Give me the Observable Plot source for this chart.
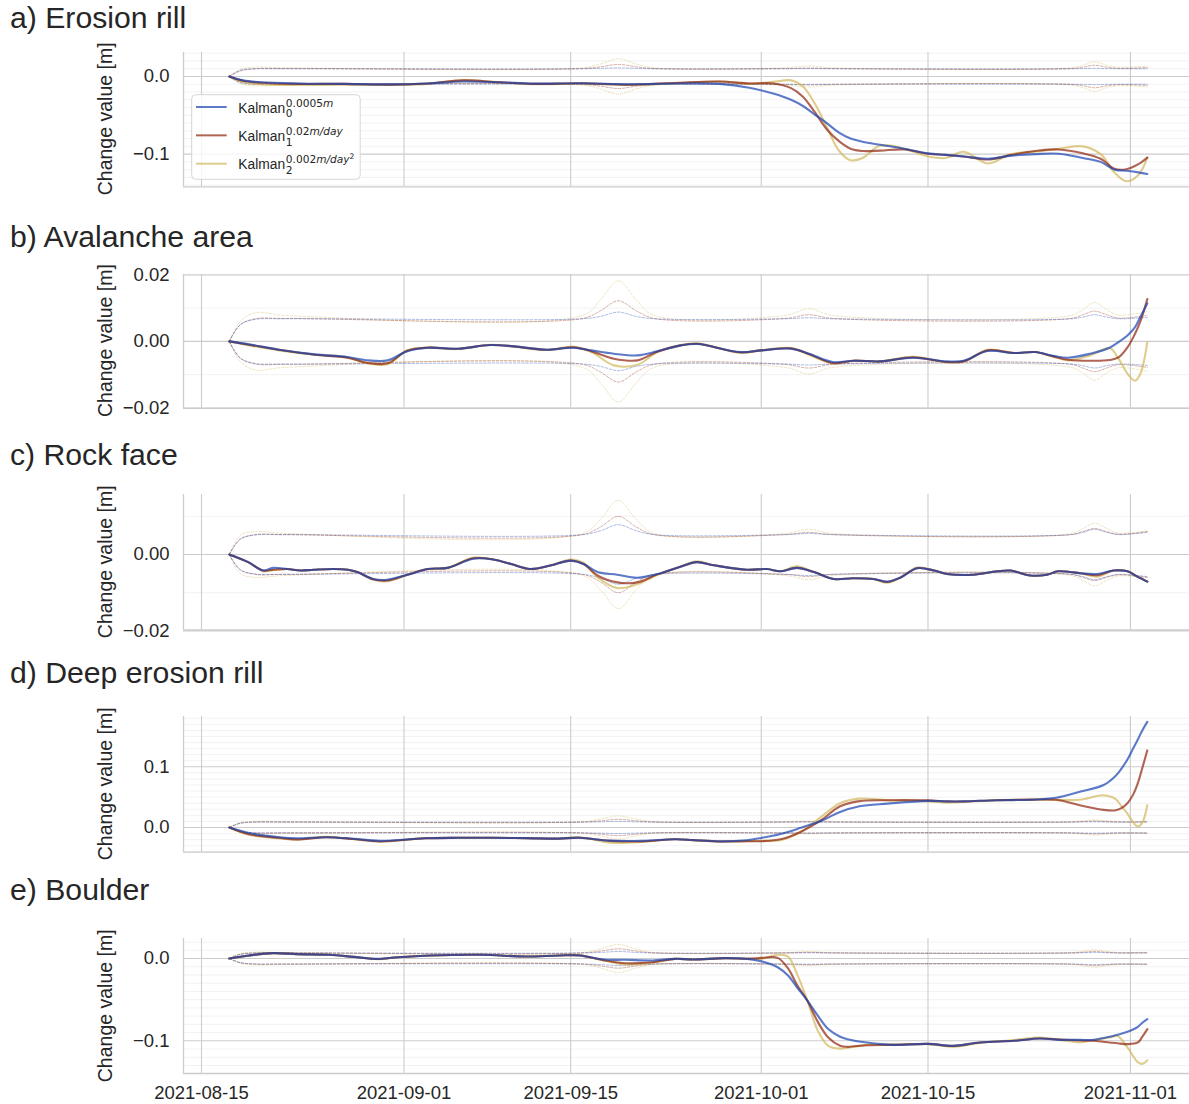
<!DOCTYPE html>
<html>
<head>
<meta charset="utf-8">
<script src="https://cdn.jsdelivr.net/npm/d3@7"></script>
<script src="https://cdn.jsdelivr.net/npm/@observablehq/plot@0.6"></script>
<style>
  body { margin: 0; background: #fff; }
  #root { position: relative; width: 1189px; height: 1104px; overflow: hidden; background: #fff;
          font-family: "Liberation Sans", Arial, sans-serif; color: #262626; }
  #root svg.panel { position: absolute; left: 0; }
  #overlay { position: absolute; left: 0; top: 0; pointer-events: none; }
</style>
</head>
<body>
<div id="root"></div>
<script>
// ---------------- DATA ----------------
const seriesNames = ["Kalman", "Kalman", "Kalman"];
const seriesSub = ["0", "1", "2"];
const seriesSupNum = ["0.0005", "0.02", "0.002"];
const seriesSupUnit = ["m", "m/day", "m/day"];
const seriesSupPow = ["", "", "2"];
const seriesColors = ["#1841b0", "#8e220c", "#d0b85b"];

const panelTitles = ["a) Erosion rill", "b) Avalanche area", "c) Rock face", "d) Deep erosion rill", "e) Boulder"];
const yLabel = "Change value [m]";
const xTicks = ["2021-08-15", "2021-09-01", "2021-09-15", "2021-10-01", "2021-10-15", "2021-11-01"];

// Panel a) Erosion rill
const aDates = ["08-17 08","08-18 12","08-20 00","08-23 00","08-27 00","08-31 00","09-03 00","09-06 00","09-09 00","09-12 00","09-16 00","09-20 00","09-24 00","09-27 12","09-30 00","10-02 00","10-03 12","10-04 12","10-05 12","10-06 12","10-07 12","10-08 12","10-09 12","10-11 00","10-13 00","10-15 00","10-16 12","10-18 00","10-20 00","10-22 00","10-24 00","10-26 00","10-28 00","10-29 12","10-30 16","10-31 16","11-01 16","11-02 10"];
const aK0 = [0,-0.005,-0.0075,-0.009,-0.0095,-0.0102,-0.009,-0.0065,-0.0075,-0.0092,-0.0088,-0.0100,-0.009,-0.0095,-0.0145,-0.022,-0.030,-0.038,-0.049,-0.060,-0.072,-0.080,-0.084,-0.088,-0.093,-0.099,-0.101,-0.103,-0.106,-0.102,-0.100,-0.0995,-0.105,-0.110,-0.120,-0.1215,-0.1235,-0.1255];
const aK1 = [0,-0.0055,-0.008,-0.0095,-0.0095,-0.0105,-0.009,-0.005,-0.0075,-0.0095,-0.0088,-0.0105,-0.008,-0.0065,-0.009,-0.009,-0.015,-0.026,-0.046,-0.068,-0.083,-0.093,-0.096,-0.0955,-0.094,-0.0995,-0.101,-0.103,-0.107,-0.101,-0.096,-0.094,-0.099,-0.106,-0.119,-0.1195,-0.113,-0.1045];
const aK2 = [0,-0.007,-0.010,-0.011,-0.0105,-0.011,-0.0095,-0.0045,-0.0075,-0.010,-0.009,-0.011,-0.0085,-0.0065,-0.009,-0.007,-0.005,-0.013,-0.035,-0.065,-0.095,-0.108,-0.105,-0.089,-0.093,-0.103,-0.105,-0.097,-0.112,-0.100,-0.097,-0.093,-0.090,-0.100,-0.124,-0.135,-0.127,-0.1045];

// Panel b) Avalanche area
const bDates = ["08-17 08","08-19 00","08-21 12","08-24 12","08-27 06","08-29 00","08-30 15","09-01 06","09-03 00","09-05 12","09-08 06","09-10 06","09-13 00","09-15 06","09-16 18","09-18 15","09-20 15","09-22 06","09-24 06","09-25 15","09-29 06","10-01 00","10-03 12","10-05 00","10-07 00","10-08 18","10-11 00","10-13 18","10-16 15","10-18 00","10-20 00","10-22 06","10-24 00","10-25 12","10-26 18","10-28 15","10-30 06","10-31 00","10-31 18","11-01 09","11-01 20","11-02 10"];
const bK0 = [0,-0.0009,-0.0025,-0.0039,-0.0047,-0.0057,-0.0057,-0.0030,-0.0019,-0.0022,-0.0011,-0.0015,-0.0025,-0.0019,-0.0027,-0.0037,-0.0042,-0.0030,-0.0012,-0.0008,-0.0032,-0.0027,-0.0022,-0.0037,-0.0062,-0.0058,-0.0060,-0.0049,-0.0060,-0.0058,-0.0029,-0.0035,-0.0032,-0.0043,-0.0049,-0.0037,-0.0019,-0.0002,0.0018,0.0042,0.0073,0.0114];
const bK1 = [0,-0.0010,-0.0025,-0.0040,-0.0049,-0.0065,-0.0066,-0.0028,-0.0019,-0.0022,-0.0011,-0.0015,-0.0025,-0.0018,-0.0030,-0.0052,-0.0057,-0.0031,-0.0012,-0.0007,-0.0033,-0.0027,-0.0021,-0.0038,-0.0065,-0.0058,-0.0060,-0.0048,-0.0062,-0.0060,-0.0027,-0.0035,-0.0032,-0.0045,-0.0055,-0.0058,-0.0056,-0.0048,-0.0018,0.0022,0.0060,0.0127];
const bK2 = [0,-0.0012,-0.0027,-0.0040,-0.0048,-0.0066,-0.0069,-0.0027,-0.0018,-0.0023,-0.0010,-0.0016,-0.0026,-0.0016,-0.0032,-0.0072,-0.0070,-0.0033,-0.0011,-0.0006,-0.0034,-0.0027,-0.0020,-0.0040,-0.0066,-0.0058,-0.0060,-0.0046,-0.0063,-0.0060,-0.0025,-0.0035,-0.0032,-0.0045,-0.0057,-0.0042,-0.0020,-0.0052,-0.0097,-0.0118,-0.0097,-0.0002];

// Panel c) Rock face
const cDates = ["08-17 08","08-18 22","08-20 05","08-21 00","08-22 05","08-23 07","08-24 10","08-26 02","08-27 07","08-28 02","08-29 10","08-30 14","09-01 07","09-03 00","09-04 16","09-06 20","09-08 12","09-10 00","09-11 14","09-13 07","09-15 00","09-16 02","09-17 06","09-18 22","09-20 14","09-22 07","09-24 05","09-25 14","09-27 00","09-29 19","10-01 12","10-02 14","10-04 00","10-05 10","10-07 02","10-08 17","10-10 10","10-11 14","10-12 17","10-14 02","10-15 12","10-16 14","10-18 19","10-20 19","10-21 22","10-23 14","10-25 00","10-25 22","10-27 19","10-29 05","10-30 14","10-31 18","11-01 14","11-02 10"];
const cK0 = [0,-0.0020,-0.0042,-0.0035,-0.0038,-0.0042,-0.0040,-0.0038,-0.0040,-0.0046,-0.0064,-0.0066,-0.0053,-0.0038,-0.0035,-0.0011,-0.0013,-0.0025,-0.0038,-0.0029,-0.0016,-0.0025,-0.0046,-0.0053,-0.0061,-0.0051,-0.0032,-0.0020,-0.0028,-0.0040,-0.0038,-0.0044,-0.0035,-0.0046,-0.0064,-0.0062,-0.0064,-0.0071,-0.0060,-0.0036,-0.0042,-0.0051,-0.0053,-0.0044,-0.0042,-0.0055,-0.0053,-0.0044,-0.0049,-0.0051,-0.0042,-0.0044,-0.0058,-0.0071];
const cK1 = [0,-0.0020,-0.0042,-0.0040,-0.0038,-0.0042,-0.0040,-0.0038,-0.0040,-0.0046,-0.0065,-0.0068,-0.0053,-0.0038,-0.0035,-0.0010,-0.0013,-0.0025,-0.0038,-0.0029,-0.0016,-0.0025,-0.0055,-0.0073,-0.0073,-0.0052,-0.0032,-0.0020,-0.0028,-0.0040,-0.0038,-0.0044,-0.0035,-0.0046,-0.0064,-0.0062,-0.0064,-0.0072,-0.0060,-0.0036,-0.0042,-0.0051,-0.0053,-0.0044,-0.0042,-0.0055,-0.0053,-0.0044,-0.0049,-0.0054,-0.0042,-0.0044,-0.0058,-0.0071];
const cK2 = [0,-0.0020,-0.0044,-0.0041,-0.0038,-0.0042,-0.0040,-0.0038,-0.0040,-0.0046,-0.0066,-0.0070,-0.0053,-0.0038,-0.0035,-0.0008,-0.0013,-0.0025,-0.0038,-0.0029,-0.0013,-0.0022,-0.0060,-0.0088,-0.0078,-0.0053,-0.0032,-0.0018,-0.0028,-0.0040,-0.0038,-0.0044,-0.0031,-0.0046,-0.0064,-0.0062,-0.0064,-0.0074,-0.0060,-0.0034,-0.0042,-0.0051,-0.0053,-0.0044,-0.0042,-0.0055,-0.0053,-0.0044,-0.0049,-0.0058,-0.0042,-0.0044,-0.0058,-0.0071];

// Panel d) Deep erosion rill
const dDates = ["08-17 08","08-19 00","08-21 12","08-23 00","08-25 12","08-27 18","08-30 00","09-02 18","09-05 12","09-08 12","09-11 06","09-14 00","09-15 18","09-18 06","09-21 00","09-23 18","09-25 06","09-27 12","09-29 18","10-01 00","10-02 15","10-04 06","10-06 00","10-07 15","10-09 06","10-11 15","10-15 00","10-16 15","10-18 00","10-20 18","10-23 15","10-25 18","10-27 18","10-29 18","10-30 18","10-31 06","10-31 18","11-01 06","11-01 15","11-02 00","11-02 10"];
const dK0 = [0,-0.009,-0.016,-0.0178,-0.016,-0.0185,-0.022,-0.0178,-0.017,-0.017,-0.0175,-0.0183,-0.017,-0.0217,-0.022,-0.0194,-0.0206,-0.0228,-0.0210,-0.0172,-0.0106,-0.001,0.0106,0.0256,0.035,0.0394,0.0439,0.043,0.043,0.045,0.0456,0.049,0.0589,0.070,0.085,0.097,0.112,0.131,0.145,0.160,0.174];
const dK1 = [0,-0.011,-0.017,-0.0196,-0.016,-0.019,-0.023,-0.0178,-0.017,-0.017,-0.0175,-0.0183,-0.017,-0.022,-0.023,-0.0194,-0.0208,-0.023,-0.0226,-0.0226,-0.0195,-0.0078,0.0117,0.035,0.0435,0.045,0.0447,0.043,0.043,0.045,0.046,0.0456,0.0367,0.029,0.0283,0.032,0.040,0.055,0.073,0.098,0.127];
const dK2 = [0,-0.012,-0.018,-0.0200,-0.0155,-0.0195,-0.0233,-0.0175,-0.017,-0.017,-0.0175,-0.0185,-0.016,-0.025,-0.024,-0.019,-0.0208,-0.023,-0.0225,-0.022,-0.021,-0.008,0.017,0.040,0.0475,0.045,0.043,0.041,0.042,0.045,0.0456,0.0456,0.0456,0.053,0.047,0.035,0.0228,0.008,0.0017,0.008,0.0367];

// Panel e) Boulder
const eDates = ["08-17 08","08-19 00","08-21 00","08-23 00","08-25 18","08-27 18","08-29 18","08-31 12","09-03 06","09-07 12","09-11 06","09-14 00","09-15 18","09-17 18","09-19 15","09-21 21","09-23 18","09-25 06","09-28 00","09-30 00","10-01 00","10-02 09","10-03 06","10-04 00","10-04 21","10-05 18","10-06 15","10-07 15","10-08 06","10-09 21","10-12 03","10-15 00","10-17 03","10-19 09","10-22 06","10-24 09","10-26 03","10-27 18","10-28 22","10-30 06","10-30 22","10-31 18","11-01 15","11-02 00","11-02 10"];
const eK0 = [0,0.0037,0.0065,0.0053,0.0045,0.002,-0.0004,0.0016,0.0037,0.0045,0.0024,0.0037,0.0037,-0.0012,-0.0016,-0.0024,-0.0004,-0.0012,0.0004,-0.0008,-0.0033,-0.0106,-0.0207,-0.035,-0.0512,-0.0695,-0.0857,-0.095,-0.098,-0.102,-0.1049,-0.1037,-0.1061,-0.102,-0.100,-0.0972,-0.0988,-0.0988,-0.0988,-0.0951,-0.0925,-0.089,-0.083,-0.078,-0.0736];
const eK1 = [0,0.0037,0.0065,0.0053,0.0045,0.002,-0.0006,0.0016,0.0037,0.0045,0.0024,0.0037,0.0038,-0.0020,-0.0057,-0.0045,-0.0004,-0.0012,0.0004,-0.0002,0.0008,0.0008,-0.012,-0.032,-0.0512,-0.077,-0.096,-0.106,-0.1073,-0.1053,-0.1049,-0.1037,-0.1061,-0.102,-0.100,-0.0972,-0.0985,-0.0996,-0.1000,-0.1020,-0.1030,-0.1040,-0.1020,-0.0950,-0.0858];
const eK2 = [0,0.0035,0.0065,0.0053,0.0045,0.002,-0.0008,0.0016,0.0037,0.0045,0.0024,0.0037,0.0040,-0.0025,-0.0073,-0.0050,-0.0004,-0.0012,0.0004,-0.0005,-0.0005,0.0045,0.0024,-0.0187,-0.0512,-0.0878,-0.1061,-0.1095,-0.1085,-0.1049,-0.1045,-0.1040,-0.1073,-0.1025,-0.0990,-0.0960,-0.0990,-0.1020,-0.0990,-0.0960,-0.0940,-0.1080,-0.1260,-0.1280,-0.1236];

// Uncertainty (±1 sigma) envelopes, shared sampling dates
const bandDates = ["08-17 08","08-18 06","08-19 12","08-22 00","09-16 00","09-17 12","09-19 00","09-20 12","09-22 00","10-03 00","10-05 00","10-07 00","10-27 00","10-28 00","10-29 00","10-30 00","10-31 00","11-02 10"];
const aS0 = [0,0.008,0.0098,0.010,0.010,0.0105,0.011,0.0105,0.010,0.010,0.0102,0.010,0.010,0.0102,0.0105,0.0102,0.010,0.010];
const aS1 = [0,0.007,0.0100,0.0102,0.0102,0.0125,0.0155,0.0125,0.0102,0.0102,0.0108,0.0102,0.0102,0.012,0.0145,0.012,0.0105,0.0115];
const aS2 = [0,0.009,0.0120,0.0112,0.0112,0.016,0.023,0.016,0.0112,0.0112,0.0135,0.0112,0.0112,0.0145,0.019,0.0145,0.012,0.0135];
const bS0 = [0,0.005,0.0066,0.0068,0.0068,0.0075,0.0088,0.0075,0.0068,0.0068,0.0071,0.0068,0.0068,0.0073,0.0080,0.0073,0.0068,0.0072];
const bS1 = [0,0.005,0.0068,0.0069,0.0069,0.0092,0.0122,0.0092,0.0069,0.0069,0.0080,0.0069,0.0069,0.0080,0.0091,0.0080,0.0070,0.0078];
const bS2 = [0,0.006,0.0086,0.0078,0.0078,0.0125,0.0182,0.0125,0.0078,0.0078,0.0098,0.0078,0.0078,0.0095,0.0117,0.0095,0.0079,0.0090];
const cS0 = [0,0.004,0.0051,0.0052,0.0052,0.0062,0.0078,0.0062,0.0052,0.0052,0.0055,0.0052,0.0052,0.0058,0.0066,0.0058,0.0052,0.0058];
const cS1 = [0,0.004,0.0052,0.0052,0.0052,0.0072,0.0100,0.0072,0.0052,0.0052,0.0058,0.0052,0.0052,0.0060,0.0068,0.0060,0.0053,0.0060];
const cS2 = [0,0.005,0.0060,0.0055,0.0055,0.0092,0.0142,0.0092,0.0055,0.0055,0.0066,0.0055,0.0055,0.0068,0.0082,0.0068,0.0056,0.0062];
const dS0 = [0,0.007,0.0088,0.0089,0.0089,0.0093,0.0100,0.0093,0.0089,0.0089,0.0091,0.0089,0.0089,0.0091,0.0094,0.0091,0.0089,0.0090];
const dS1 = [0,0.007,0.0090,0.0090,0.0090,0.0110,0.0135,0.0110,0.0090,0.0090,0.0095,0.0090,0.0090,0.0098,0.0105,0.0098,0.0090,0.0092];
const dS2 = [0,0.008,0.0100,0.0095,0.0095,0.0140,0.0190,0.0140,0.0095,0.0095,0.0105,0.0095,0.0095,0.0110,0.0125,0.0110,0.0096,0.0100];
const eS0 = [0,0.005,0.0066,0.0067,0.0067,0.0074,0.0085,0.0074,0.0067,0.0067,0.0069,0.0067,0.0067,0.0070,0.0074,0.0070,0.0067,0.0068];
const eS1 = [0,0.005,0.0068,0.0068,0.0068,0.0090,0.0118,0.0090,0.0068,0.0068,0.0075,0.0068,0.0068,0.0076,0.0086,0.0076,0.0068,0.0070];
const eS2 = [0,0.006,0.0078,0.0072,0.0072,0.0115,0.0170,0.0115,0.0072,0.0072,0.0085,0.0072,0.0072,0.0088,0.0106,0.0088,0.0073,0.0076];

const aTicks = [-0.1, 0.0];
const bTicks = [-0.02, 0.0, 0.02];
const cTicks = [-0.02, 0.0];
const dTicks = [0.0, 0.1];
const eTicks = [-0.1, 0.0];

// ---------------- LAYOUT ----------------
const W = 1189;
const parse = d3.utcParse("%Y-%m-%d %H");
const toDate = s => parse("2021-" + s);
const xDomain = [new Date(Date.UTC(2021, 7, 13, 11, 44)), new Date(Date.UTC(2021, 10, 5, 23, 0))];
const xTickDates = xTicks.map(d3.utcParse("%Y-%m-%d"));

const panels = [
  {title: panelTitles[0], dates: aDates, k: [aK0, aK1, aK2], s: [aS0, aS1, aS2], ticks: aTicks, fmt: ".1f", yDomain: [-0.1421, 0.0309], top: 51.7, bottom: 186, titleBase: 28},
  {title: panelTitles[1], dates: bDates, k: [bK0, bK1, bK2], s: [bS0, bS1, bS2], ticks: bTicks, fmt: ".2f", yDomain: [-0.0201, 0.0201], top: 273.7, bottom: 407.5, titleBase: 247},
  {title: panelTitles[2], dates: cDates, k: [cK0, cK1, cK2], s: [cS0, cS1, cS2], ticks: cTicks, fmt: ".2f", yDomain: [-0.01976, 0.0157], top: 494, bottom: 629.5, titleBase: 465},
  {title: panelTitles[3], dates: dDates, k: [dK0, dK1, dK2], s: [dS0, dS1, dS2], ticks: dTicks, fmt: ".1f", yDomain: [-0.0407, 0.1829], top: 716, bottom: 851.7, titleBase: 683},
  {title: panelTitles[4], dates: eDates, k: [eK0, eK1, eK2], s: [eS0, eS1, eS2], ticks: eTicks, fmt: ".1f", yDomain: [-0.1397, 0.0243], top: 938.3, bottom: 1073.3, titleBase: 900, xAxis: true}
];

const root = document.getElementById("root");
const bandD = bandDates.map(toDate);

panels.forEach(p => {
  const mt = 4, mb = p.xAxis ? 30 : 4;
  const height = mt + (p.bottom - p.top) + mb;
  const lo = p.yDomain[0], hi = p.yDomain[1];
  const minor = d3.range(Math.ceil(lo * 100 - 1e-6), Math.floor(hi * 100 + 1e-6) + 1)
    .map(k => k / 100)
    .filter(v => !p.ticks.some(t => Math.abs(t - v) < 1e-9));
  const dates = p.dates.map(toDate);

  const bandMarks = [];
  [2, 1, 0].forEach(si => {
    const up = bandD.map((d, j) => ({date: d, value: p.s[si][j]}));
    const dn = bandD.map((d, j) => ({date: d, value: -p.s[si][j]}));
    for (const data of [up, dn]) {
      bandMarks.push(Plot.line(data, {x: "date", y: "value", stroke: seriesColors[si], strokeOpacity: 0.45,
        strokeWidth: 0.8, strokeDasharray: "2.6,1.6", curve: "catmull-rom"}));
    }
  });
  const lineMarks = [2, 1, 0].map(si =>
    Plot.line(dates.map((d, j) => ({date: d, value: p.k[si][j]})), {
      x: "date", y: "value", stroke: seriesColors[si], strokeOpacity: 0.7, strokeWidth: 2.1,
      curve: "catmull-rom"
    })
  );

  const chart = Plot.plot({
    width: W, height,
    marginLeft: 183, marginRight: 0, marginTop: mt, marginBottom: mb,
    style: {fontFamily: "'Liberation Sans', Arial, sans-serif", fontSize: "18.5px", color: "#262626", background: "transparent", overflow: "visible"},
    x: {type: "utc", domain: xDomain, ticks: xTickDates, tickFormat: d3.utcFormat("%Y-%m-%d"),
        tickSize: 0, tickPadding: 12, label: null, axis: p.xAxis ? "bottom" : null},
    y: {domain: p.yDomain, ticks: p.ticks, tickFormat: d3.format(p.fmt), tickSize: 0, tickPadding: 14, label: null},
    marks: [
      Plot.ruleY(minor, {stroke: "#efefef", strokeWidth: 0.8}),
      Plot.ruleY(p.ticks, {stroke: "#cccccc", strokeWidth: 1.1}),
      Plot.ruleX(xTickDates, {stroke: "#cccccc", strokeWidth: 1.1}),
      ...bandMarks,
      ...lineMarks,
      Plot.ruleX([xDomain[0]], {stroke: "#cccccc", strokeWidth: 1.3}),
      Plot.ruleY([p.yDomain[0]], {stroke: "#cccccc", strokeWidth: 1.3})
    ]
  });
  chart.classList.add("panel");
  chart.style.top = (p.top - mt) + "px";
  root.appendChild(chart);
});

// ---------------- TEXT OVERLAY (titles, y labels, legend) ----------------
const ov = d3.select(root).append("svg").attr("id", "overlay").attr("width", W).attr("height", 1104)
  .style("font-family", "'Liberation Sans', Arial, sans-serif");

panels.forEach(p => {
  ov.append("text").attr("x", 10).attr("y", p.titleBase).attr("font-size", 30.2).attr("fill", "#262626").text(p.title);
  ov.append("text")
    .attr("transform", `translate(104.5,${(p.top + p.bottom) / 2}) rotate(-90)`)
    .attr("text-anchor", "middle").attr("dominant-baseline", "central")
    .attr("font-size", 19.5).attr("fill", "#262626").text(yLabel);
});

const lg = ov.append("g").attr("transform", "translate(191.7,94.7)");
lg.append("rect").attr("width", 168.5).attr("height", 84.6).attr("rx", 4)
  .attr("fill", "white").attr("fill-opacity", 0.8).attr("stroke", "#d6d6d6").attr("stroke-width", 1);
seriesNames.forEach((name, i) => {
  const cy = 12.3 + i * 28.35;
  const base = cy + 5.7;
  lg.append("line").attr("x1", 4.3).attr("x2", 35).attr("y1", cy).attr("y2", cy)
    .attr("stroke", seriesColors[i]).attr("stroke-opacity", 0.7).attr("stroke-width", 2);
  const t = lg.append("text").attr("x", 46.6).attr("y", base).attr("font-size", 13.8).attr("fill", "#262626").text(name);
  const w = t.node().getComputedTextLength();
  const sx = 46.6 + w + 0.8;
  const sup = lg.append("text").attr("x", sx).attr("y", base - 6)
    .attr("font-family", "'DejaVu Sans', sans-serif").attr("font-size", 10.6).attr("fill", "#262626");
  sup.append("tspan").text(seriesSupNum[i]);
  sup.append("tspan").attr("font-style", "italic").text(seriesSupUnit[i]);
  if (seriesSupPow[i]) sup.append("tspan").attr("dy", -4).attr("font-size", 7.6).text(seriesSupPow[i]);
  lg.append("text").attr("x", sx).attr("y", base + 4.5)
    .attr("font-family", "'DejaVu Sans', sans-serif").attr("font-size", 10.6).attr("fill", "#262626").text(seriesSub[i]);
});
</script>
</body>
</html>
